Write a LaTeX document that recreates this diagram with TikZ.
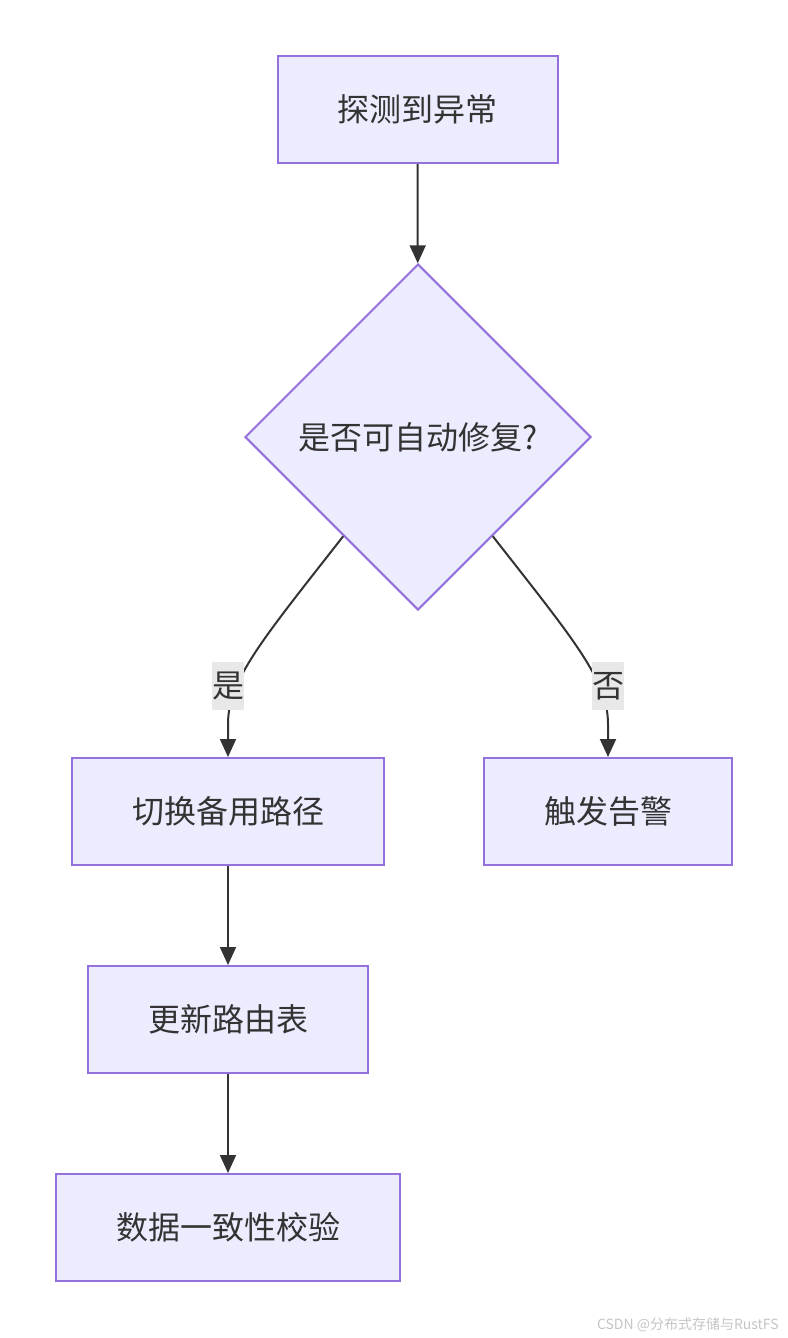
\documentclass[tikz,border=0pt]{standalone}
\usepackage{fontspec}
\usepackage{tikz}
\usetikzlibrary{arrows.meta,shapes.geometric}
\setmainfont{Noto Sans CJK SC}
\definecolor{boxfill}{HTML}{ECECFF}
\definecolor{boxline}{HTML}{9370DB}
\definecolor{ink}{HTML}{333333}
\definecolor{lblfill}{HTML}{E8E8E8}
\definecolor{wmark}{HTML}{C4C4C4}
\tikzset{
  stepbox/.style={draw=boxline,fill=boxfill,line width=1.5pt,inner xsep=45pt,inner ysep=0pt,minimum height=80.25pt,text=ink,font=\fontsize{24pt}{28pt}\selectfont},
  choice/.style={diamond,aspect=1,draw=boxline,fill=boxfill,line width=1.5pt,inner sep=0pt,minimum width=259.5pt,minimum height=259.5pt,text=ink,font=\fontsize{24pt}{28pt}\selectfont},
  edgelbl/.style={fill=lblfill,inner sep=0pt,minimum height=36pt,text=ink,font=\fontsize{24pt}{28pt}\selectfont},
  arr/.style={draw=ink,line width=1.5pt,-{Triangle[length=13.5pt,width=12pt]}}
}
\begin{document}
\begin{tikzpicture}[x=0.75pt,y=0.75pt,yscale=-1,xscale=1]
\useasboundingbox (0,0) rectangle (788,1338);

% Process Nodes
\node[stepbox] (detect) at (417.5,109.5) {探测到异常};
\node[choice] (fix) at (418,437) {是否可自动修复?};
\node[stepbox] (switch) at (228,811.5) {切换备用路径};
\node[stepbox] (alarm) at (608,811.5) {触发告警};
\node[stepbox] (route) at (228,1019.5) {更新路由表};
\node[stepbox] (check) at (228,1227.5) {数据一致性校验};

% Label points
\coordinate (yesat) at (228,686);
\coordinate (noat) at (608,686);
\coordinate (yesbend) at (228,724);
\coordinate (nobend) at (608,724);

%Straight Lines
\draw[arr] (detect) -- (fix);
%Curve Lines
\draw[arr] (fix.233) .. controls (262,640) and (228,680) .. (yesbend) -- (switch);
\draw[arr] (fix.307) .. controls (574,640) and (608,680) .. (nobend) -- (alarm);
%Straight Lines
\draw[arr] (switch) -- (route);
\draw[arr] (route) -- (check);

% Text Node
\node[edgelbl] (yes) at (yesat) {是};
% Text Node
\node[edgelbl] (no) at (noat) {否};
% Text Node
\node[anchor=east,inner sep=0pt,text=wmark,font=\fontsize{10.5pt}{12pt}\selectfont] (mark) at (779,1325) {CSDN @分布式存储与RustFS};

\end{tikzpicture}
\end{document}
